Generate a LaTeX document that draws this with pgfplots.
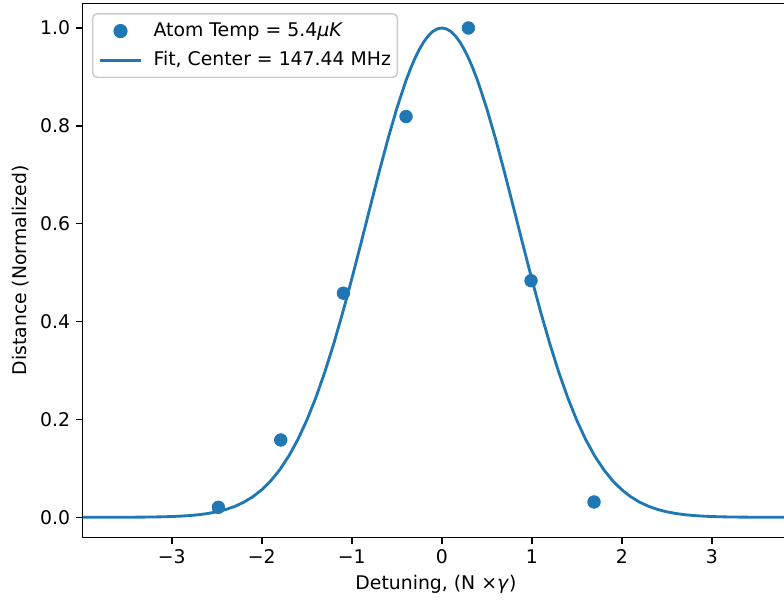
\documentclass[border=0pt]{standalone}
\usepackage{fontspec}
\setmainfont{DejaVu Sans}
\usepackage{pgfplots}
\pgfplotsset{compat=1.18}
\definecolor{C0}{HTML}{1F77B4}
\pgfplotsset{
  dotlegend/.style={legend image code/.code={\draw[##1] plot coordinates {(12pt,0pt)};}},
  linelegend/.style={legend image code/.code={\draw[##1] (0pt,0pt) -- (24pt,0pt);}},
}
\newcommand{\mplfont}{\fontsize{11.3}{13.5}\selectfont}

\pgfplotstableread{
x y
-4.0 0.00001
-3.9 0.00002
-3.8 0.00003
-3.7 0.00005
-3.6 0.00009
-3.5 0.00015
-3.4 0.00024
-3.3 0.00040
-3.2 0.00063
-3.1 0.00099
-3.0 0.00154
-2.9 0.00236
-2.8 0.00355
-2.7 0.00527
-2.6 0.00773
-2.5 0.01115
-2.4 0.01586
-2.3 0.02224
-2.2 0.03075
-2.1 0.04189
-2.0 0.05626
-1.9 0.07449
-1.8 0.09720
-1.7 0.12504
-1.6 0.15854
-1.5 0.19816
-1.4 0.24413
-1.3 0.29646
-1.2 0.35489
-1.1 0.41875
-1.0 0.48703
-0.9 0.55837
-0.8 0.63101
-0.7 0.70292
-0.6 0.77183
-0.5 0.83538
-0.4 0.89127
-0.35 0.91564
-0.3 0.93730
-0.25 0.95603
-0.2 0.97163
-0.15 0.98394
-0.1 0.99283
-0.05 0.99820
0.0 1.00000
0.05 0.99820
0.1 0.99283
0.15 0.98394
0.2 0.97163
0.25 0.95603
0.3 0.93730
0.35 0.91564
0.4 0.89127
0.5 0.83538
0.6 0.77183
0.7 0.70292
0.8 0.63101
0.9 0.55837
1.0 0.48703
1.1 0.41875
1.2 0.35489
1.3 0.29646
1.4 0.24413
1.5 0.19816
1.6 0.15854
1.7 0.12504
1.8 0.09720
1.9 0.07449
2.0 0.05626
2.1 0.04189
2.2 0.03075
2.3 0.02224
2.4 0.01586
2.5 0.01115
2.6 0.00773
2.7 0.00527
2.8 0.00355
2.9 0.00236
3.0 0.00154
3.1 0.00099
3.2 0.00063
3.3 0.00040
3.4 0.00024
3.5 0.00015
3.6 0.00009
3.7 0.00005
3.8 0.00003
3.9 0.00002
}\fitdata

\pgfplotstableread{
x y
-2.482 0.0204
-1.789 0.158
-1.093 0.458
-0.397 0.819
0.296 1.000
0.992 0.4835
1.692 0.0313
}\atomdata

\begin{document}
\begin{tikzpicture}
\begin{axis}[
  at={(0,0)}, anchor=south west,
  scale only axis,
  width=423.9pt, height=320.3pt,
  xmin=-3.99, xmax=3.86,
  ymin=-0.041, ymax=1.05,
  axis line style={line width=0.9pt},
  tick align=outside,
  xtick pos=bottom, ytick pos=left,
  major tick length=4pt,
  every tick/.style={black, line width=0.9pt},
  xtick={-3,-2,-1,0,1,2,3},
  xticklabels={−3,−2,−1,0,1,2,3},
  ytick={0,0.2,0.4,0.6,0.8,1.0},
  yticklabels={0.0,0.2,0.4,0.6,0.8,1.0},
  tick label style={font=\mplfont},
  xlabel={Detuning, (N ×\textit{γ})},
  ylabel={Distance (Normalized)},
  label style={font=\mplfont},
  legend cell align=left,
  legend style={
    at={(axis description cs:0,1)}, anchor=north west,
    xshift=5.6pt, yshift=-5.8pt,
    draw=black!20, line width=0.9pt, rounded corners=2.5pt, fill=white,
    font=\mplfont,
    nodes={inner sep=0pt, text height=8.5pt, text depth=2.5pt},
    inner xsep=3.8pt, inner ysep=4.8pt,
    column sep=7pt,
    row sep=6.4pt,
  },
]
\addplot[only marks, mark=*, mark size=3.8pt, color=C0, dotlegend]
  table[x=x, y=y] {\atomdata};
\addlegendentry{Atom Temp = 5.4\textit{μK}}
\addplot[color=C0, line width=1.7pt, mark=none, linelegend]
  table[x=x, y=y] {\fitdata};
\addlegendentry{Fit, Center = 147.44 MHz}
\end{axis}
\pgfresetboundingbox
\useasboundingbox (-49.6pt,-37.6pt) rectangle (420.8pt,322.4pt);
\end{tikzpicture}
\end{document}
